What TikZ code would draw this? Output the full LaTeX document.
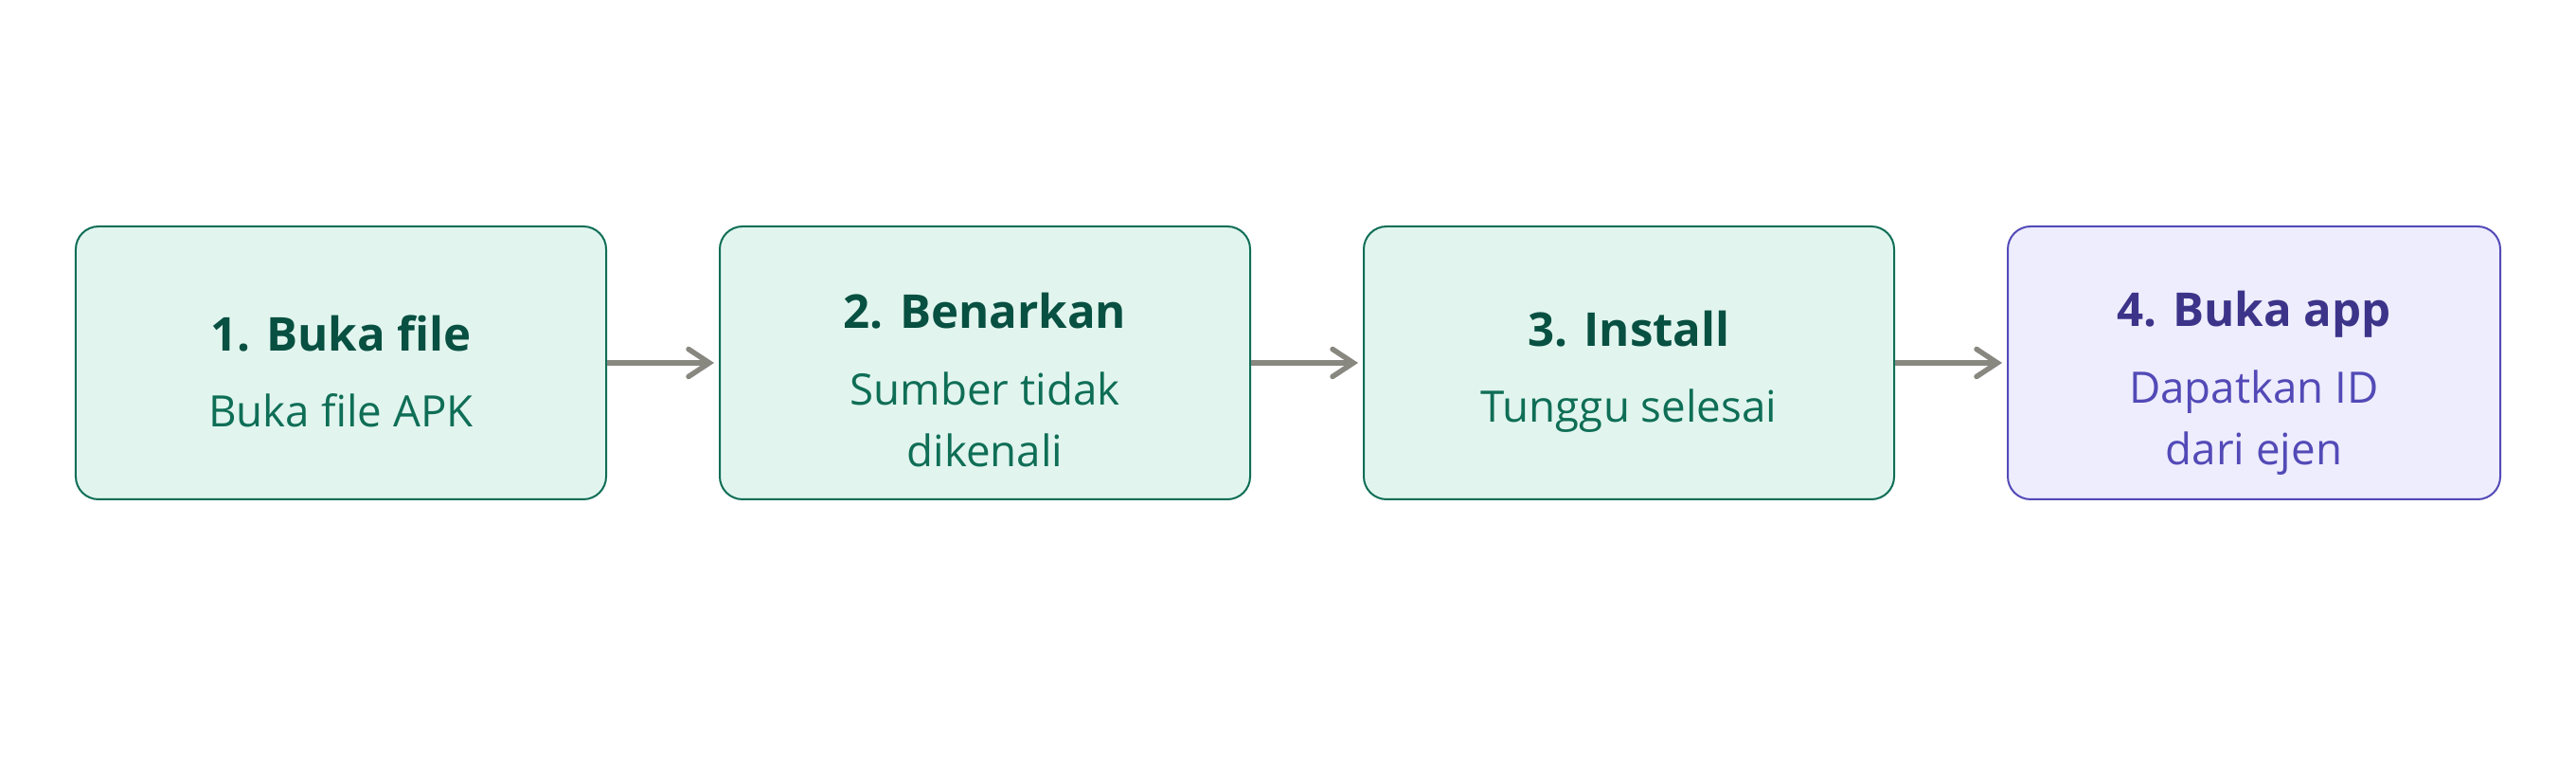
\documentclass[tikz,border=0pt]{standalone}
\usepackage{fontspec}
\setmainfont{Open Sans}
\usetikzlibrary{positioning,arrows.meta}

\definecolor{stepfill}{HTML}{E1F5EE}
\definecolor{stepline}{HTML}{0F6E56}
\definecolor{steptitle}{HTML}{085041}
\definecolor{appfill}{HTML}{EEEDFE}
\definecolor{appline}{HTML}{534AB7}
\definecolor{apptitle}{HTML}{3C3489}
\definecolor{flowgray}{HTML}{888780}

\begin{document}
\begin{tikzpicture}[
x=1mm, y=1mm,
node distance=11.8mm,
stepbox/.style={rectangle, rounded corners=2.4mm, draw=stepline, fill=stepfill, line width=0.2mm, minimum width=56mm, minimum height=28.8mm, align=center, text=stepline, font=\fontsize{13}{18.5}\selectfont},
appbox/.style={stepbox, draw=appline, fill=appfill, text=appline, minimum width=52mm},
flow/.style={draw=flowgray, line width=0.55mm, shorten >=0.5mm, -{Straight Barb[length=2.2mm, width=2.9mm, line cap=round]}}
]
\useasboundingbox (0,0) rectangle (272,80);

\node[stepbox](buka_file) at (36,41.7) {{\fontsize{14}{17}\selectfont\bfseries\color{steptitle}\rule{0pt}{16pt}1. Buka file}\\[1.5mm]Buka file APK};
\node[stepbox](benarkan)[right=of buka_file] {{\fontsize{14}{17}\selectfont\bfseries\color{steptitle}\rule{0pt}{21pt}2. Benarkan}\\[1.6mm]Sumber tidak\\dikenali};
\node[stepbox](install)[right=of benarkan] {{\fontsize{14}{17}\selectfont\bfseries\color{steptitle}\rule{0pt}{16pt}3. Install}\\[1.5mm]Tunggu selesai};
\node[appbox](buka_app)[right=of install] {{\fontsize{14}{17}\selectfont\bfseries\color{apptitle}\rule{0pt}{23pt}4. Buka app}\\[1.6mm]Dapatkan ID\\dari ejen};

\draw[flow] (buka_file) -- (benarkan);
\draw[flow] (benarkan) -- (install);
\draw[flow] (install) -- (buka_app);
\end{tikzpicture}
\end{document}
